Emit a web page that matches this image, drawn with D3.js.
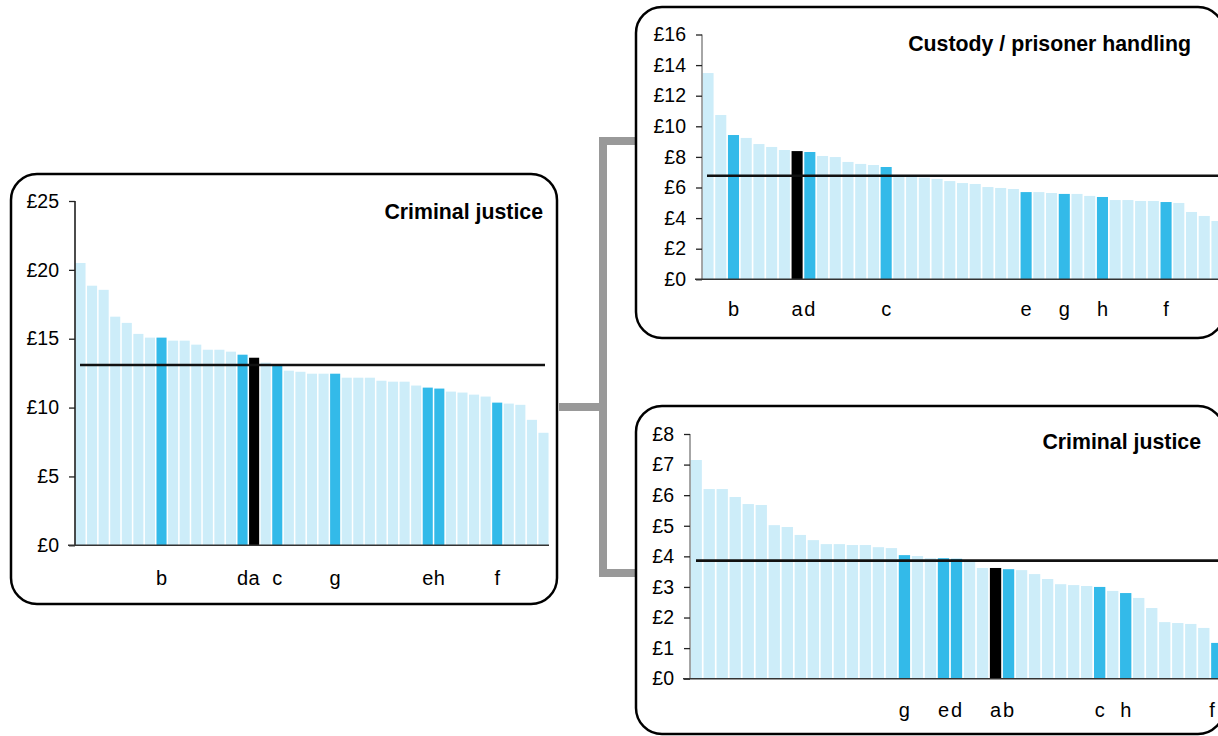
<!DOCTYPE html>
<html><head><meta charset="utf-8">
<script src="https://cdn.jsdelivr.net/npm/d3@7"></script>
<style>
body{margin:0;background:#fff;}
svg{display:block;font-family:"Liberation Sans",Arial,sans-serif;}
</style></head>
<body><svg id="c" width="1218" height="736"></svg>
<script>
// ---- Data ----
const cjMainValues = [20.5,18.85,18.55,16.6,16.15,15.35,15.08,15.08,14.86,14.86,14.57,14.2,14.2,14.06,13.84,13.62,13.26,13.08,12.68,12.6,12.46,12.46,12.46,12.17,12.17,12.17,11.95,11.88,11.88,11.6,11.45,11.38,11.16,11.09,10.94,10.8,10.36,10.29,10.2,9.11,8.17];
const cjMainLetters = ["","","","","","","","b","","","","","","","d","a","","c","","","","","g","","","","","","","","e","h","","","","","f","","","",""];
const cjMainAverage = 13.09;
const cjMainTicks = [0,5,10,15,20,25];

const custodyValues = [13.48,10.74,9.43,9.24,8.84,8.65,8.45,8.38,8.32,8.06,7.99,7.67,7.54,7.47,7.34,6.75,6.7,6.65,6.56,6.42,6.29,6.23,6.03,5.97,5.9,5.7,5.7,5.64,5.58,5.58,5.45,5.38,5.18,5.18,5.12,5.12,5.05,4.99,4.4,4.14,3.81];
const custodyLetters = ["","","b","","","","","a","d","","","","","","c","","","","","","","","","","","e","","","g","","","h","","","","","f","","","",""];
const custodyAverage = 6.77;
const custodyTicks = [0,2,4,6,8,10,12,14,16];

const cjSubValues = [7.15,6.2,6.2,5.94,5.71,5.68,5.02,4.96,4.7,4.53,4.4,4.4,4.37,4.37,4.3,4.27,4.04,4.01,3.94,3.94,3.92,3.82,3.62,3.62,3.58,3.55,3.42,3.26,3.09,3.06,3.03,3.0,2.87,2.8,2.64,2.31,1.85,1.82,1.79,1.66,1.17];
const cjSubLetters = ["","","","","","","","","","","","","","","","","g","","","e","d","","","a","b","","","","","","","c","","h","","","","","","","f"];
const cjSubAverage = 3.86;
const cjSubTicks = [0,1,2,3,4,5,6,7,8];

const titles = ["Criminal justice","Custody / prisoner handling","Criminal justice"];

// ---- Drawing ----
const svg = d3.select("#c");
const LIGHT="#CDEDF9", MID="#33BAE9", DARK="#000000";

// connector (behind boxes)
const conn = svg.append("g").attr("stroke","#999").attr("stroke-width",8).attr("fill","none");
conn.append("path").attr("d","M559,407 H603 M603,137 V577 M599,141 H637 M599,573 H637");

function roundedBox(x0,y0,x1,y1,r){
  svg.append("rect").attr("x",x0).attr("y",y0).attr("width",x1-x0).attr("height",y1-y0)
    .attr("rx",r).attr("ry",r).attr("fill","#fff").attr("stroke","#000").attr("stroke-width",2.5);
}
roundedBox(11,174,557,604,26);
roundedBox(636,7,1224,338,26);
roundedBox(636,406,1224,734,26);

function panel(cfg){
  const g = svg.append("g");
  const n = cfg.values.length;
  const x = d3.scaleBand().domain(d3.range(n)).range([cfg.x0,cfg.x1]).paddingInner(0.13).paddingOuter(0.04);
  const y = d3.scaleLinear().domain([0,cfg.max]).range([cfg.y0,cfg.y1]);
  g.selectAll("rect.bar").data(cfg.values).join("rect").attr("class","bar")
    .attr("x",(d,i)=>x(i)).attr("width",x.bandwidth())
    .attr("y",d=>y(d)).attr("height",d=>y(0)-y(d))
    .attr("fill",(d,i)=>cfg.letters[i]==="a"?DARK:(cfg.letters[i]?MID:LIGHT));
  // y axis
  const ax = g.append("g").attr("transform",`translate(${cfg.x0},0)`)
    .call(d3.axisLeft(y).tickValues(cfg.ticks).tickSize(6).tickPadding(10).tickFormat(d=>"£"+d));
  ax.select(".domain").attr("stroke",cfg.axisColor).attr("stroke-width",1.5).attr("d",`M0,${cfg.y1}V${cfg.y0}`);
  ax.selectAll(".tick line").attr("stroke","#222").attr("stroke-width",1.3);
  ax.selectAll(".tick text").attr("font-size",cfg.fs).attr("fill","#000")
    .attr("font-family","'Liberation Sans',Arial,sans-serif");
  // baseline
  g.append("line").attr("x1",cfg.x0-7).attr("x2",cfg.x1).attr("y1",y(0)).attr("y2",y(0))
    .attr("stroke","#333").attr("stroke-width",1.5);
  // average line
  g.append("line").attr("x1",cfg.avgX0).attr("x2",cfg.avgX1).attr("y1",y(cfg.avg)).attr("y2",y(cfg.avg))
    .attr("stroke","#111").attr("stroke-width",2.6);
  // letters
  g.selectAll("text.lab").data(cfg.letters.map((l,i)=>({l,i})).filter(d=>d.l)).join("text")
    .attr("class","lab")
    .attr("x",d=>Math.min(x(d.i)+x.bandwidth()/2, 1212)).attr("y",cfg.labY)
    .attr("text-anchor","middle").attr("font-size",cfg.fs+0.5).text(d=>d.l);
  // title
  g.append("text").attr("x",cfg.titleX).attr("y",cfg.titleY).attr("text-anchor","end")
    .attr("font-size",21.3).attr("font-weight","bold").text(cfg.title);
}

panel({values:cjMainValues,letters:cjMainLetters,avg:cjMainAverage,ticks:cjMainTicks,max:25,
  x0:75,x1:549,y0:545.3,y1:201,axisColor:"#111",avgX0:80,avgX1:545,labY:585,fs:19.5,
  title:titles[0],titleX:543,titleY:219});
panel({values:custodyValues,letters:custodyLetters,avg:custodyAverage,ticks:custodyTicks,max:16,
  x0:702,x1:1223,y0:279.3,y1:34.5,axisColor:"#888",avgX0:707,avgX1:1224,labY:316,fs:19.5,
  title:titles[1],titleX:1191,titleY:51});
panel({values:cjSubValues,letters:cjSubLetters,avg:cjSubAverage,ticks:cjSubTicks,max:8,
  x0:690,x1:1223,y0:678.7,y1:434,axisColor:"#888",avgX0:696,avgX1:1224,labY:717,fs:19.5,
  title:titles[2],titleX:1201,titleY:449});
</script></body></html>
